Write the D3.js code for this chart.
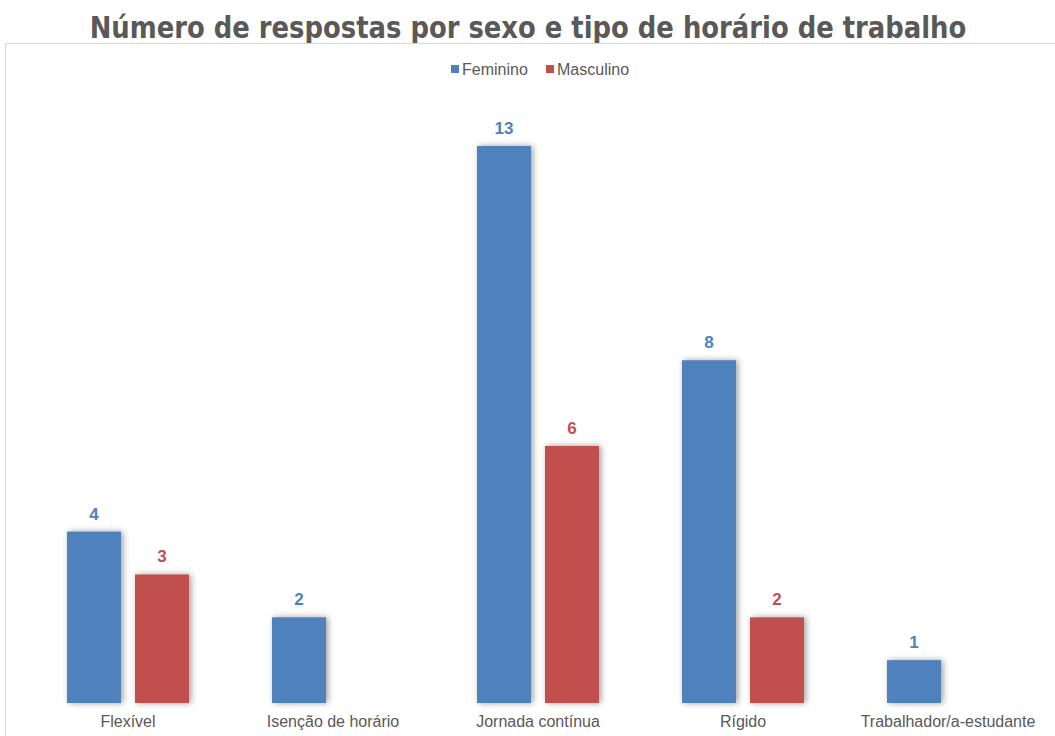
<!DOCTYPE html>
<html>
<head>
<meta charset="utf-8">
<script src="https://cdn.jsdelivr.net/npm/d3@7"></script>
<style>
  html, body { margin: 0; padding: 0; background: #ffffff; }
  svg { display: block; }
</style>
</head>
<body>
<svg id="chart" width="1055" height="736"></svg>
<script>
// Respostas por tipo de horário de trabalho, separadas por sexo
const categories = ["Flexível", "Isenção de horário", "Jornada contínua", "Rígido", "Trabalhador/a-estudante"];
const series = ["Feminino", "Masculino"];
const feminino = [4, 2, 13, 8, 1];
const masculino = [3, null, 6, 2, null];
const seriesColors = ["#4F81BD", "#C0504D"];

const values = [feminino, masculino];
const W = 1055, H = 736;
const svg = d3.select("#chart");

const defs = svg.append("defs");
const shadow = defs.append("filter").attr("id", "barShadow")
  .attr("x", "-30%").attr("y", "-10%").attr("width", "160%").attr("height", "120%");
shadow.append("feDropShadow")
  .attr("dx", 2).attr("dy", 0).attr("stdDeviation", 3)
  .attr("flood-color", "#000").attr("flood-opacity", 0.38);

// Title: condensed bold, scaled horizontally to its target width
const titleWidth = 877, titleCx = 528;
const titleG = svg.append("g");
const title = titleG.append("text")
  .attr("x", 0).attr("y", 0)
  .attr("text-anchor", "middle")
  .attr("font-family", "DejaVu Sans, Verdana, sans-serif")
  .attr("font-weight", "bold")
  .attr("font-size", 30)
  .attr("fill", "#595959")
  .text("Número de respostas por sexo e tipo de horário de trabalho");
const natural = title.node().getComputedTextLength();
titleG.attr("transform", `translate(${titleCx},38) scale(${titleWidth / natural},1)`);

// Chart area frame
svg.append("rect")
  .attr("x", 5.5).attr("y", 43.5)
  .attr("width", W + 10).attr("height", H)
  .attr("fill", "none").attr("stroke", "#d9d9d9").attr("stroke-width", 1);

// Scales
const x0 = d3.scaleBand().domain(categories).range([25.5, 1050.5])
  .paddingInner(0.405).paddingOuter(0.2025);
const x1 = d3.scaleBand().domain(series).range([0, x0.bandwidth()])
  .paddingInner(0.2059).paddingOuter(0);
const y = d3.scaleLinear().domain([0, 13]).range([703, 146]);

// Legend
const legend = svg.append("g").attr("font-family", "Liberation Sans, Arial, sans-serif")
  .attr("font-size", 16).attr("fill", "#595959");
const legendX = [451, 546];
series.forEach((s, i) => {
  legend.append("rect").attr("x", legendX[i]).attr("y", 65)
    .attr("width", 8).attr("height", 8).attr("fill", seriesColors[i]);
  legend.append("text").attr("x", legendX[i] + 11).attr("y", 75).text(s);
});

// Bars
const data = [];
categories.forEach((c, ci) => {
  series.forEach((s, si) => {
    const v = values[si][ci];
    if (v != null) data.push({ c, s, si, v });
  });
});

const barsG = svg.append("g");
barsG.selectAll("rect").data(data).join("rect")
  .attr("x", d => x0(d.c) + x1(d.s))
  .attr("y", d => y(d.v))
  .attr("width", x1.bandwidth())
  .attr("height", d => y(0) - y(d.v))
  .attr("fill", d => seriesColors[d.si])
  .attr("filter", "url(#barShadow)");

// Value labels
svg.append("g").selectAll("text").data(data).join("text")
  .attr("x", d => x0(d.c) + x1(d.s) + x1.bandwidth() / 2)
  .attr("y", d => y(d.v) - 12)
  .attr("text-anchor", "middle")
  .attr("font-family", "Liberation Sans, Arial, sans-serif")
  .attr("font-weight", "bold")
  .attr("font-size", 17)
  .attr("fill", d => seriesColors[d.si])
  .text(d => d.v);

// Category axis labels
const xAxis = d3.axisBottom(x0).tickSize(0).tickPadding(0);
const axG = svg.append("g").attr("transform", `translate(0,${y(0)})`).call(xAxis);
axG.select(".domain").remove();
axG.selectAll("text")
  .attr("y", 13)
  .attr("dy", "0.71em")
  .attr("font-family", "Liberation Sans, Arial, sans-serif")
  .attr("font-size", 16)
  .attr("fill", "#595959");
</script>
</body>
</html>
